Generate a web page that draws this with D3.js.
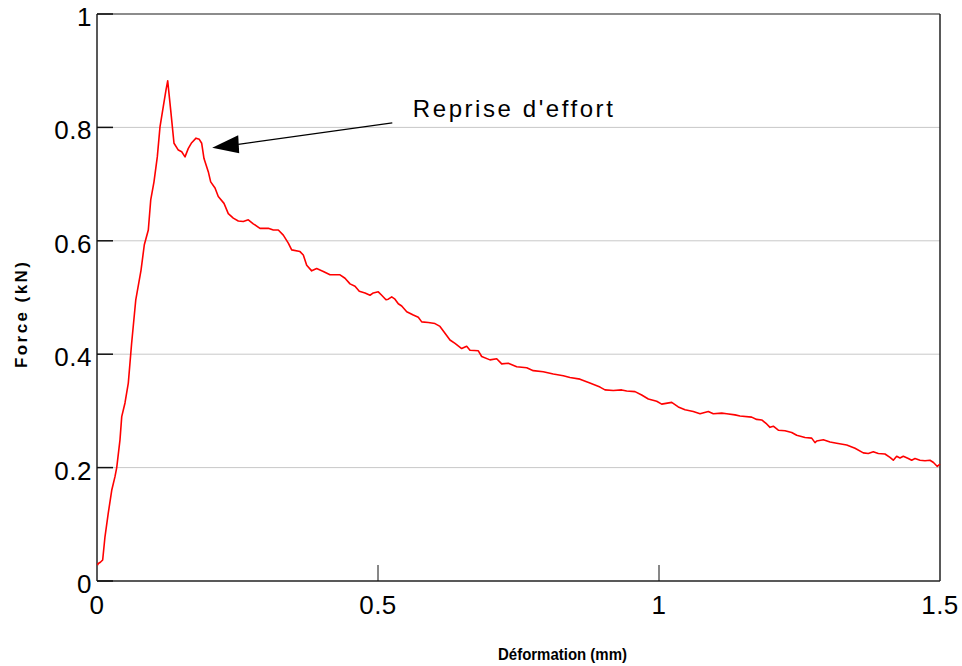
<!DOCTYPE html>
<html>
<head>
<meta charset="utf-8">
<script src="https://cdn.jsdelivr.net/npm/d3@7"></script>
<style>
  body { margin: 0; background: #fff; }
  text { font-family: "Liberation Sans", Arial, sans-serif; fill: #000; }
</style>
</head>
<body>
<div id="container"></div>
<script>
// donnees
var deformation = [0.001, 0.0023, 0.006, 0.0101, 0.0142, 0.0201, 0.0262, 0.0320, 0.0351, 0.0409,
    0.0440, 0.0498, 0.0557, 0.0615, 0.0690, 0.0783, 0.0842, 0.0913, 0.0956, 0.1014,
    0.1073, 0.1121, 0.1180, 0.1228, 0.1258, 0.1311, 0.1370, 0.1447, 0.1507, 0.1566,
    0.1625, 0.1685, 0.1762, 0.1820, 0.1863, 0.1904, 0.1980, 0.2023, 0.2100, 0.2158,
    0.2260, 0.2336, 0.2425, 0.2514, 0.2603, 0.2692, 0.2781, 0.2900, 0.3048, 0.3137,
    0.3226, 0.3315, 0.3404, 0.3464, 0.3612, 0.3671, 0.3731, 0.3820, 0.3909, 0.4027,
    0.4146, 0.4324, 0.4413, 0.4502, 0.4591, 0.4667, 0.4769, 0.4858, 0.4916, 0.5005,
    0.5066, 0.5142, 0.5183, 0.5244, 0.5302, 0.5361, 0.5422, 0.5511, 0.5628, 0.5717,
    0.5778, 0.5895, 0.6014, 0.6103, 0.6192, 0.6281, 0.6370, 0.6489, 0.6578, 0.6637,
    0.6785, 0.6845, 0.6993, 0.7112, 0.7201, 0.7318, 0.7468, 0.7646, 0.7763, 0.7940,
    0.8119, 0.8297, 0.8416, 0.8594, 0.8770, 0.8950, 0.9039, 0.9187, 0.9336, 0.9425,
    0.9573, 0.9692, 0.9810, 0.9959, 1.0048, 1.0226, 1.0343, 1.0463, 1.0610, 1.0730,
    1.0877, 1.0966, 1.1116, 1.1205, 1.1352, 1.1441, 1.1649, 1.1738, 1.1827, 1.1916,
    1.1975, 1.2034, 1.2123, 1.2242, 1.2361, 1.2450, 1.2598, 1.2717, 1.2776, 1.2806,
    1.2924, 1.3043, 1.3162, 1.3340, 1.3488, 1.3635, 1.3724, 1.3813, 1.3902, 1.4021,
    1.4110, 1.4169, 1.4229, 1.4288, 1.4347, 1.4436, 1.4496, 1.4555, 1.4644, 1.4733,
    1.4822, 1.4884, 1.4952, 1.5000];

var force = [0.028, 0.031, 0.033, 0.037, 0.078, 0.120, 0.160, 0.184, 0.200, 0.249,
    0.290, 0.314, 0.349, 0.418, 0.496, 0.548, 0.593, 0.619, 0.672, 0.704,
    0.748, 0.801, 0.837, 0.866, 0.882, 0.831, 0.772, 0.760, 0.757, 0.748,
    0.763, 0.773, 0.781, 0.779, 0.772, 0.745, 0.722, 0.704, 0.693, 0.678,
    0.666, 0.648, 0.640, 0.635, 0.634, 0.637, 0.630, 0.622, 0.622, 0.619,
    0.619, 0.610, 0.596, 0.584, 0.581, 0.575, 0.557, 0.547, 0.551, 0.546,
    0.540, 0.540, 0.534, 0.524, 0.520, 0.511, 0.508, 0.504, 0.508, 0.510,
    0.504, 0.496, 0.497, 0.501, 0.497, 0.489, 0.485, 0.475, 0.469, 0.465,
    0.457, 0.456, 0.454, 0.449, 0.437, 0.425, 0.419, 0.410, 0.414, 0.407,
    0.406, 0.396, 0.390, 0.392, 0.383, 0.384, 0.378, 0.376, 0.371, 0.369,
    0.365, 0.362, 0.359, 0.356, 0.349, 0.342, 0.337, 0.336, 0.337, 0.335,
    0.334, 0.328, 0.321, 0.317, 0.312, 0.315, 0.307, 0.302, 0.299, 0.295,
    0.299, 0.295, 0.296, 0.295, 0.293, 0.291, 0.289, 0.285, 0.284, 0.277,
    0.271, 0.273, 0.266, 0.265, 0.262, 0.257, 0.253, 0.252, 0.244, 0.247,
    0.249, 0.245, 0.243, 0.240, 0.234, 0.226, 0.225, 0.228, 0.225, 0.224,
    0.218, 0.213, 0.220, 0.217, 0.220, 0.216, 0.213, 0.216, 0.213, 0.212,
    0.213, 0.209, 0.202, 0.206];

var xTicks = [0, 0.5, 1, 1.5];
var yTicks = [0, 0.2, 0.4, 0.6, 0.8, 1];
var yGrid = [0.2, 0.4, 0.6, 0.8];

// annotation: pointe de la fleche et debut du texte (en unites du graphe)
var annotTip = [0.205, 0.764];
var annotTail = [0.5254, 0.808];
var annotText = [0.562, 0.818];

var w = 962, h = 666;
var margin = {top: 14, right: 22, bottom: 85, left: 97};

var svg = d3.select("#container").append("svg")
    .attr("width", w)
    .attr("height", h);

var x = d3.scaleLinear().domain([0, 1.5]).range([margin.left, w - margin.right]);
var y = d3.scaleLinear().domain([0, 1]).range([h - margin.bottom, margin.top]);

//grille
svg.append("g").selectAll("line")
    .data(yGrid).enter().append("line")
    .attr("x1", x(0)).attr("x2", x(1.5))
    .attr("y1", function(d) { return y(d); })
    .attr("y2", function(d) { return y(d); })
    .attr("stroke", "#c8c8c8")
    .attr("stroke-width", 1);

//cadre
svg.append("line").attr("x1", x(0)).attr("x2", x(1.5)).attr("y1", y(1)).attr("y2", y(1))
    .attr("stroke", "#666").attr("stroke-width", 1.5);
svg.append("line").attr("x1", x(1.5)).attr("x2", x(1.5)).attr("y1", y(1)).attr("y2", y(0))
    .attr("stroke", "#222").attr("stroke-width", 1.5);
svg.append("line").attr("x1", x(0)).attr("x2", x(1.5)).attr("y1", y(0)).attr("y2", y(0))
    .attr("stroke", "#222").attr("stroke-width", 1.5);
svg.append("line").attr("x1", x(0)).attr("x2", x(0)).attr("y1", y(1)).attr("y2", y(0))
    .attr("stroke", "#222").attr("stroke-width", 1.5);

//graduations y
svg.append("g").selectAll("line")
    .data(yTicks).enter().append("line")
    .attr("x1", x(0)).attr("x2", x(0) + 16)
    .attr("y1", function(d) { return y(d); })
    .attr("y2", function(d) { return y(d); })
    .attr("stroke", "#111").attr("stroke-width", 1.5);

svg.append("g").selectAll("text")
    .data(yTicks).enter().append("text")
    .attr("x", x(0) - 5)
    .attr("y", function(d) { return y(d) + 12; })
    .attr("text-anchor", "end")
    .style("font-size", "26px")
    .style("letter-spacing", "0.5px")
    .text(function(d) { return d; });

//graduations x
svg.append("g").selectAll("line")
    .data(xTicks.slice(1, 3)).enter().append("line")
    .attr("x1", function(d) { return x(d); })
    .attr("x2", function(d) { return x(d); })
    .attr("y1", y(0)).attr("y2", y(0) - 16)
    .attr("stroke", "#111").attr("stroke-width", 1);

svg.append("g").selectAll("text")
    .data(xTicks).enter().append("text")
    .attr("x", function(d) { return x(d); })
    .attr("y", y(0) + 33)
    .attr("text-anchor", "middle")
    .style("font-size", "26px")
    .style("letter-spacing", "0.5px")
    .text(function(d) { return d; });

//titres des axes
svg.append("text")
    .attr("x", 498).attr("y", 660)
    .style("font-size", "17px")
    .style("font-weight", "bold")
    .attr("textLength", 129)
    .attr("lengthAdjust", "spacingAndGlyphs")
    .text("Déformation (mm)");

svg.append("text")
    .attr("transform", "translate(27,368) rotate(-90)")
    .style("font-size", "17px")
    .style("font-weight", "bold")
    .attr("textLength", 106)
    .attr("lengthAdjust", "spacing")
    .text("Force (kN)");

//courbe
var pts = deformation.map(function(d, i) { return [d, force[i]]; });
var line = d3.line()
    .x(function(d) { return x(d[0]); })
    .y(function(d) { return y(d[1]); });

svg.append("path")
    .datum(pts)
    .attr("d", line)
    .attr("fill", "none")
    .attr("stroke", "#ff0000")
    .attr("stroke-width", 1.6)
    .attr("stroke-linejoin", "round");

//fleche
var tx = x(annotTip[0]), ty = y(annotTip[1]);
svg.append("line")
    .attr("x1", x(annotTail[0])).attr("y1", y(annotTail[1]))
    .attr("x2", tx + 26).attr("y2", ty - 3.5)
    .attr("stroke", "#000").attr("stroke-width", 1.2);
svg.append("polygon")
    .attr("points", [[tx, ty], [tx + 26, ty - 12.5], [tx + 27, ty + 5.5]].map(function(p) { return p.join(","); }).join(" "))
    .attr("fill", "#000");

svg.append("text")
    .attr("x", x(annotText[0])).attr("y", y(annotText[1]))
    .style("font-size", "24px")
    .attr("textLength", 200)
    .attr("lengthAdjust", "spacing")
    .text("Reprise d'effort");
</script>
</body>
</html>
